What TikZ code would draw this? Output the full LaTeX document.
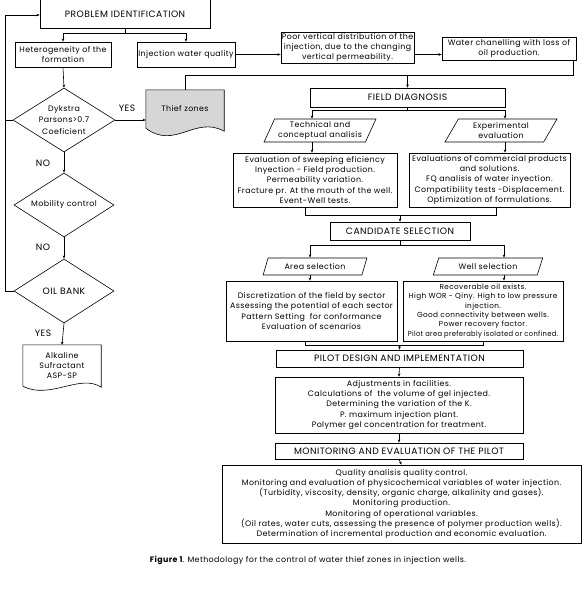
\documentclass[tikz,border=0pt]{standalone}
\usepackage{fontspec}
\setmainfont{Poppins}[LetterSpace=5]
\usetikzlibrary{arrows.meta,shapes.geometric,calc,backgrounds}
\definecolor{thiefgray}{RGB}{214,214,214}
\tikzset{
  base/.style={font=\fontsize{7.9}{10.3}\selectfont, align=center, inner sep=1pt},
  caps/.style={font=\fontsize{9.2}{11}\selectfont},
  box/.style={base, draw, line width=0.6pt, rectangle},
  para/.style={base, draw, line width=0.6pt, trapezium, trapezium left angle=62, trapezium right angle=118, trapezium stretches=true, inner sep=0pt},
  dia/.style={base, draw, line width=0.6pt, diamond, aspect=1.6, inner sep=0pt},
  doc/.style={base, rectangle},
  lbl/.style={base},
  conn/.style={line width=0.6pt},
  arr/.style={conn, -{Stealth[length=3.2pt,width=2.6pt]}},
}
\begin{document}
\begin{tikzpicture}[x=1pt,y=-1pt]
\useasboundingbox (0,0) rectangle (582,592);
% ---------- left column ----------
\node[box, caps, minimum width=170, minimum height=36, text height=14pt, text depth=0pt] (pi) at (125,10) {PROBLEM IDENTIFICATION};
\node[box, minimum width=96, minimum height=25] (het) at (63,54.5) {Heterogeneity of the\\formation};
\node[box, minimum width=98, minimum height=25] (iwq) at (186,54.5) {Injection water quality};
\node[box, minimum width=133, minimum height=31] (poor) at (347.5,47.5) {Poor vertical distribution of the\\injection, due to the changing\\vertical permeability.};
\node[box, minimum width=134, minimum height=23] (water) at (509,48.5) {Water chanelling with loss of\\oil production.};
\node[dia, minimum width=102, minimum height=64] (dyk) at (64,120) {Dykstra\\[1pt]Parsons>0.7\\[1pt]Coeficient};
\node[doc, minimum width=78, minimum height=38] (thief) at (185,109) {Thief zones};
\node[dia, minimum width=100, minimum height=64] (mob) at (64,205) {Mobility control};
\node[dia, caps, minimum width=100, minimum height=64] (oil) at (64,291) {OIL BANK};
\node[doc, minimum width=78, minimum height=41] (alk) at (62,365.5) {Alkaline\\Sufractant\\ASP-SP};
% document shapes
\begin{scope}[on background layer]
\draw[conn, fill=thiefgray] (thief.north west) -- (thief.north east) -- ($(thief.south east)+(0,3)$)
  .. controls ($(thief.south east)+(-29,-13)$) and ($(thief.south west)+(29,22)$) .. (thief.south west) -- cycle;
\draw[conn, fill=white] (alk.north west) -- (alk.north east) -- ($(alk.south east)+(0,1)$)
  .. controls ($(alk.south east)+(-21,-13)$) and ($(alk.south west)+(27,14)$) .. (alk.south west) -- cycle;
\end{scope}
% ---------- right column ----------
\node[box, caps, minimum width=195, minimum height=19] (fd) at (407.5,97.5) {FIELD DIAGNOSIS};
\node[para, minimum width=112, minimum height=23] (tech) at (320,130.5) {Technical and\\conceptual analisis};
\node[para, minimum width=112, minimum height=23] (expe) at (501,130.5) {Experimental\\evaluation};
\node[box, minimum width=164, minimum height=54] (evs) at (315,180) {Evaluation of sweeping eficiency\\Inyection - Field production.\\Permeability variation.\\Fracture pr. At the mouth of the well.\\Event-Well tests.};
\node[box, minimum width=161, minimum height=54] (evc) at (489.5,180) {Evaluations of commercial products\\and solutions.\\FQ analisis of water inyection.\\Compatibility tests -Displacement.\\Optimization of formulations.};
\node[box, caps, minimum width=140, minimum height=18] (cand) at (400,231) {CANDIDATE SELECTION};
\node[para, minimum width=104, minimum height=17] (area) at (315,266.5) {Area selection};
\node[para, minimum width=110, minimum height=17] (well) at (488,266.5) {Well selection};
\node[box, minimum width=171, minimum height=60] (disc) at (311.5,311) {Discretization of the field by sector\\Assessing the potential of each sector\\Pattern Setting\ \ for conformance\\Evaluation of scenarios};
\node[box, minimum width=160, minimum height=60, font=\fontsize{7.3}{9.3}\selectfont] (rec) at (483,311) {Recoverable oil exists.\\High WOR - Qiny. High to low pressure\\injection.\\Good connectivity between wells.\\Power recovery factor.\\\scalebox{0.92}[1]{Pilot area preferably isolated or confined.}};
\node[box, caps, minimum width=247, minimum height=17] (pilot) at (399.5,358.5) {PILOT DESIGN AND IMPLEMENTATION};
\node[box, minimum width=248, minimum height=56] (adj) at (399,405) {Adjustments in facilities.\\Calculations of\ \ the volume of gel injected.\\Determining the variation of the K.\\P. maximum injection plant.\\Polymer gel concentration for treatment.};
\node[box, caps, minimum width=248, minimum height=16] (mon) at (399,451) {MONITORING AND EVALUATION OF THE PILOT};
\node[box, minimum width=359, minimum height=78] (big) at (401.5,504) {Quality analisis quality control.\\Monitoring and evaluation of physicochemical variables of water injection.\\(Turbidity, viscosity, density, organic charge, alkalinity and gases).\\Monitoring production.\\Monitoring of operational variables.\\(Oil rates, water cuts, assessing the presence of polymer production wells).\\Determination of incremental production and economic evaluation.};
\node[lbl] (cap) at (308,560) {\textbf{Figure 1}. Methodology for the control of water thief zones in injection wells.};
% labels
\node[lbl, caps] (yes1) at (127,108) {YES};
\node[lbl, caps] (no1) at (43,163) {NO};
\node[lbl, caps] (no2) at (43,247) {NO};
\node[lbl, caps] (yes2) at (43,333) {YES};
% ---------- connectors ----------
\draw[arr] (pi.south) -- ++(0,5) -| (het.north);
\draw[arr] (pi.south) ++(0,5) -| (iwq.north);
\draw[arr] (iwq.east) -- (iwq.east -| poor.west);
\draw[arr] (poor.east |- iwq.east) -- (water.west |- iwq.east);
\coordinate (jr) at (573,75);
\draw[conn] (thief.north) |- (jr) -- (jr |- water.south);
\draw[arr] (fd.north |- jr) -- (fd.north);
\draw[arr] (het.south) -- (dyk.north);
\draw[arr] (dyk.east) -- (dyk.east -| thief.west);
\draw[arr] (dyk.south) -- (mob.north);
\draw[arr] (mob.south) -- (oil.north);
\draw[arr] (oil.south) -- (alk.north);
\coordinate (fb) at (5,15);
\draw[arr] (oil.west) -| (fb) -- (fb -| pi.west);
\draw[conn] (dyk.west) -- (dyk.west -| fb);
% field diagnosis split
\coordinate (ta) at (312,110);
\coordinate (ea) at (505,110);
\draw[conn] (fd.south) -- (fd.south |- ta);
\draw[conn] (ta) -- (ea);
\draw[arr] (ta) -- (ta |- tech.north);
\draw[arr] (ea) -- (ea |- expe.north);
\draw[arr] (ta |- tech.south) -- (ta |- evs.north);
\draw[arr] (ea |- expe.south) -- (ea |- evc.north);
% merge to candidate
\coordinate (m1) at (305,215);
\coordinate (m2) at (496,215);
\draw[conn] (m1 |- evs.south) -- (m1) -- (m2) -- (m2 |- evc.south);
\draw[arr] (cand.north |- m1) -- (cand.north);
% candidate split
\coordinate (a1) at (310,245);
\coordinate (a2) at (504,245);
\draw[conn] (cand.south) -- (cand.south |- a1);
\draw[conn] (a1) -- (a2);
\draw[arr] (a1) -- (a1 |- area.north);
\draw[arr] (a2) -- (a2 |- well.north);
\draw[arr] (a1 |- area.south) -- (a1 |- disc.north);
\draw[arr] (a2 |- well.south) -- (a2 |- rec.north);
% merge to pilot
\coordinate (p1) at (305,345);
\coordinate (p2) at (483,345);
\draw[conn] (p1 |- disc.south) -- (p1) -- (p2) -- (p2 |- rec.south);
\draw[arr] (pilot.north |- p1) -- (pilot.north);
\draw[arr] (pilot.south) -- (adj.north);
\draw[arr] (adj.south) -- (mon.north);
\draw[arr] (mon.south) -- (big.north);
\end{tikzpicture}
\end{document}
